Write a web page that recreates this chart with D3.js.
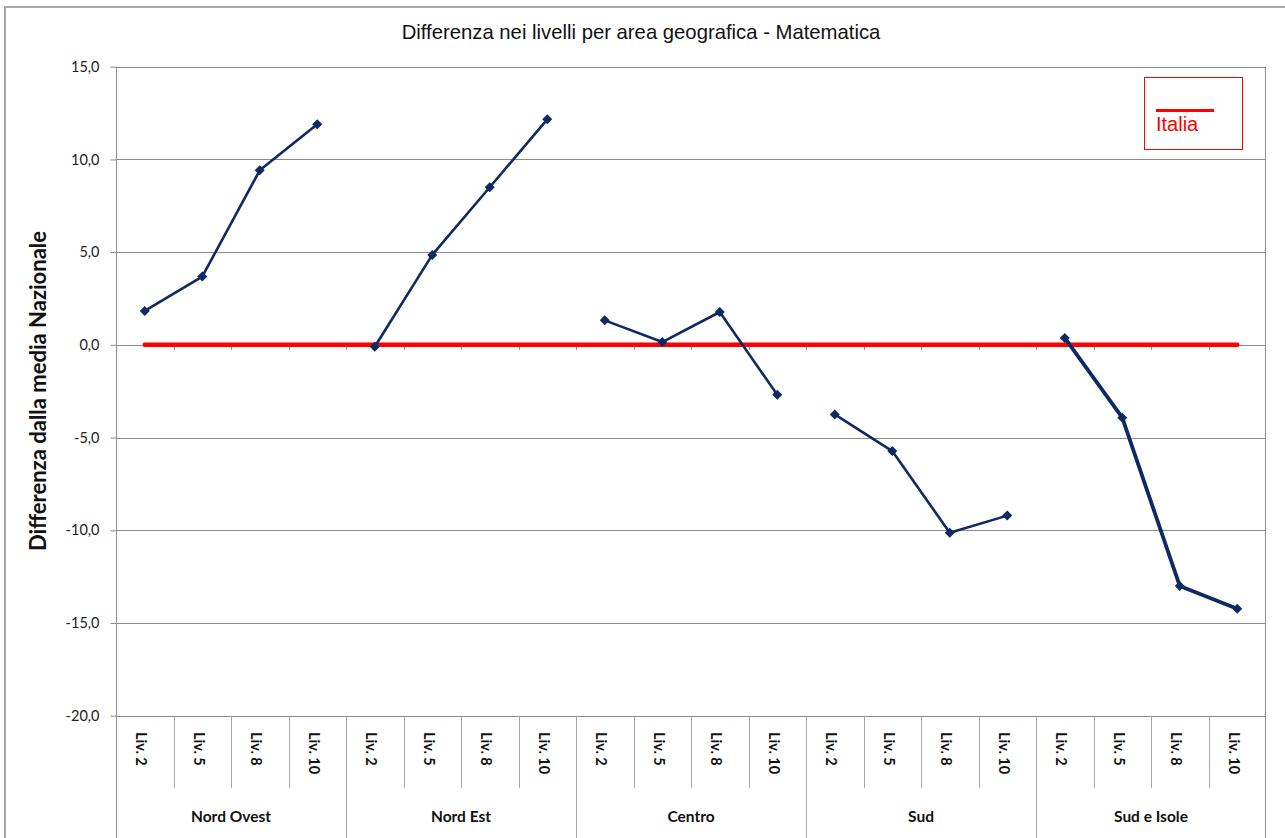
<!DOCTYPE html>
<html>
<head>
<meta charset="utf-8">
<script src="https://cdn.jsdelivr.net/npm/d3@7"></script>
<style>
  html, body { margin: 0; padding: 0; background: #fff; }
  svg { display: block; }
</style>
</head>
<body>
<svg id="chart" width="1285" height="838"></svg>
<script>
// ---- data ----
const groups = ["Nord Ovest", "Nord Est", "Centro", "Sud", "Sud e Isole"];
const levels = ["Liv. 2", "Liv. 5", "Liv. 8", "Liv. 10"];
const nordOvest = [1.83, 3.68, 9.41, 11.9];
const nordEst = [-0.1, 4.85, 8.5, 12.16];
const centro = [1.32, 0.15, 1.77, -2.69];
const sud = [-3.75, -5.73, -10.13, -9.21];
const sudIsole = [0.37, -3.93, -13.0, -14.23];
const italia = 0;
const yTicks = [15, 10, 5, 0, -5, -10, -15, -20];
const seriesValues = [nordOvest, nordEst, centro, sud, sudIsole];

// ---- layout ----
const svg = d3.select("#chart");
const plotL = 116, plotR = 1266, plotT = 66.7, plotB = 715.7;

const cats = [];
groups.forEach(g => levels.forEach(l => cats.push(g + "|" + l)));

const x = d3.scaleBand().domain(cats).range([plotL, plotR]).padding(0);
const xc = k => x(k) + x.bandwidth() / 2;
const y = d3.scaleLinear().domain([-20, 15]).range([plotB, plotT]);

const gridColor = "#8c8c8c";
const navy = "#0f2a62";

// outer border
svg.append("rect").attr("x", 5).attr("y", 7).attr("width", 1300).attr("height", 900)
  .attr("fill", "none").attr("stroke", "#a6a6a6").attr("stroke-width", 2);

// title
svg.append("text").attr("x", 641).attr("y", 39).attr("text-anchor", "middle")
  .attr("font-family", "Liberation Sans, Arial, sans-serif").attr("font-size", 20.3)
  .attr("fill", "#111").text("Differenza nei livelli per area geografica - Matematica");

// gridlines
svg.append("g").selectAll("line").data(yTicks).join("line")
  .attr("x1", plotL).attr("x2", plotR)
  .attr("y1", d => Math.round(y(d)) + 0.5).attr("y2", d => Math.round(y(d)) + 0.5)
  .attr("stroke", gridColor).attr("stroke-width", 1);

// y axis
const yAxis = d3.axisLeft(y).tickValues(yTicks).tickSize(6).tickPadding(11)
  .tickFormat(d => d.toFixed(1).replace(".", ","));
const ya = svg.append("g").attr("transform", `translate(${plotL + 0.5},0)`).call(yAxis);
ya.select(".domain").remove();
ya.selectAll(".tick line").attr("stroke", gridColor);
ya.selectAll(".tick text").attr("font-family", "Lato, Carlito, sans-serif")
  .attr("font-size", 14.5).attr("fill", "#222");

// left axis line + right plot line (extending to bottom)
svg.append("line").attr("x1", plotL + 0.5).attr("x2", plotL + 0.5).attr("y1", plotT).attr("y2", 838)
  .attr("stroke", gridColor);
svg.append("line").attr("x1", plotR - 0.5).attr("x2", plotR - 0.5).attr("y1", plotT).attr("y2", 838)
  .attr("stroke", gridColor);

// y axis title
svg.append("text")
  .attr("transform", `translate(46,391) rotate(-90)`)
  .attr("text-anchor", "middle")
  .attr("font-family", "Lato, Carlito, sans-serif").attr("font-weight", "bold")
  .attr("font-size", 22).attr("fill", "#111")
  .text("Differenza dalla media Nazionale");

// category boundaries on the zero line (small ticks)
const boundaries = cats.slice(1).map(k => x(k));
svg.append("g").selectAll("line").data(boundaries).join("line")
  .attr("x1", d => Math.round(d) + 0.5).attr("x2", d => Math.round(d) + 0.5)
  .attr("y1", y(0)).attr("y2", y(0) + 5)
  .attr("stroke", gridColor);

// bottom category separators
svg.append("g").selectAll("line").data(cats.slice(1)).join("line")
  .attr("x1", d => Math.round(x(d)) + 0.5).attr("x2", d => Math.round(x(d)) + 0.5)
  .attr("y1", plotB)
  .attr("y2", d => d.endsWith("Liv. 2") ? 838 : 788)
  .attr("stroke", "#a6a6a6");

// level labels (rotated)
svg.append("g").selectAll("text").data(cats).join("text")
  .attr("transform", d => `translate(${xc(d) - 5},732) rotate(90)`)
  .attr("text-anchor", "start").attr("dominant-baseline", "middle")
  .attr("font-family", "Lato, Carlito, sans-serif").attr("font-weight", "bold")
  .attr("font-size", 14.5).attr("fill", "#111")
  .text(d => d.split("|")[1]);

// group labels
svg.append("g").selectAll("text").data(groups).join("text")
  .attr("x", g => (x(g + "|" + levels[0]) + x(g + "|" + levels[3]) + x.bandwidth()) / 2)
  .attr("y", 822).attr("text-anchor", "middle")
  .attr("font-family", "Lato, Carlito, sans-serif").attr("font-weight", "bold")
  .attr("font-size", 15.5).attr("fill", "#111")
  .text(g => g);

// Italia line
svg.append("line")
  .attr("x1", xc(cats[0])).attr("x2", xc(cats[cats.length - 1]))
  .attr("y1", y(italia)).attr("y2", y(italia))
  .attr("stroke", "#ff0000").attr("stroke-width", 4.5).attr("stroke-linecap", "round");

// series lines + markers
const line = d3.line().x(d => d[0]).y(d => d[1]);
const diamond = d3.symbol().type(d3.symbolSquare).size(50);
seriesValues.forEach((vals, gi) => {
  const pts = vals.map((v, li) => [xc(groups[gi] + "|" + levels[li]), y(v)]);
  svg.append("path").attr("d", line(pts)).attr("fill", "none")
    .attr("stroke", navy).attr("stroke-width", gi === 4 ? 3.8 : 2.6)
    .attr("stroke-linejoin", "round");
  svg.append("g").selectAll("path").data(pts).join("path")
    .attr("transform", d => `translate(${d[0]},${d[1]}) rotate(45)`)
    .attr("d", diamond).attr("fill", navy);
});

// legend
const lg = svg.append("g");
lg.append("rect").attr("x", 1144.5).attr("y", 77.5).attr("width", 98).attr("height", 72)
  .attr("fill", "#fff").attr("stroke", "#ff0000").attr("stroke-width", 1);
lg.append("line").attr("x1", 1156).attr("x2", 1214).attr("y1", 110.5).attr("y2", 110.5)
  .attr("stroke", "#ff0000").attr("stroke-width", 3);
lg.append("text").attr("x", 1156).attr("y", 131)
  .attr("font-family", "Liberation Sans, Arial, sans-serif").attr("font-size", 20)
  .attr("fill", "#ff0000").text("Italia");
</script>
</body>
</html>
